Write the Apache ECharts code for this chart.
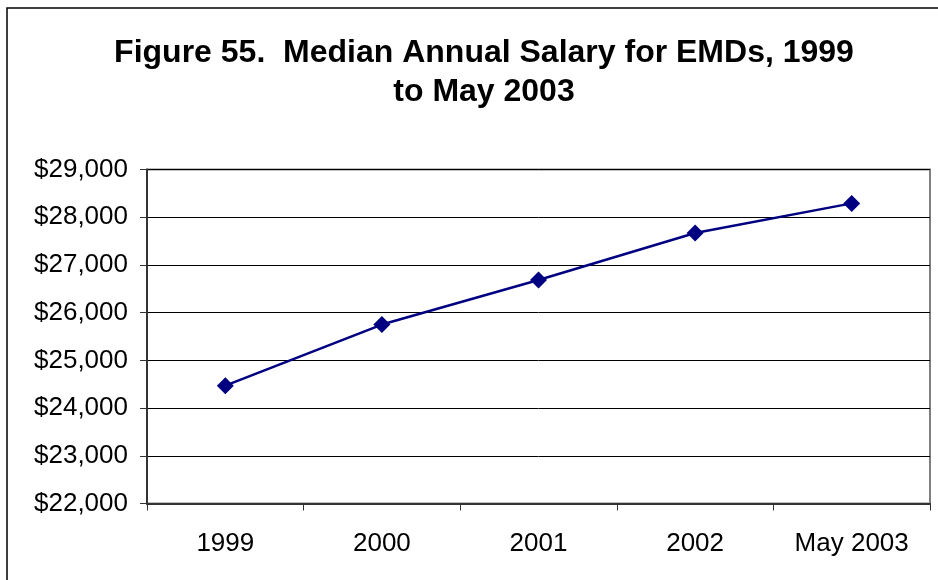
<!DOCTYPE html>
<html><head><meta charset="utf-8">
<script src="https://cdn.jsdelivr.net/npm/echarts@6/dist/echarts.min.js"></script>
<style>html,body{margin:0;padding:0;background:#fff}#c{width:938px;height:580px}</style>
</head><body><div id="c"></div>
<script>
const categories = ['1999', '2000', '2001', '2002', 'May 2003'];
const salaries = [24470, 25750, 26685, 27670, 28290];
const yTicks = [22000, 23000, 24000, 25000, 26000, 27000, 28000, 29000];
const titleText = 'Figure 55.  Median Annual Salary for EMDs, 1999\nto May 2003';

const chart = echarts.init(document.getElementById('c'), null, {renderer: 'canvas'});
const FONT = '"Liberation Sans", Arial, sans-serif';
chart.setOption({
  animation: false,
  backgroundColor: '#fff',
  title: {
    text: titleText,
    left: 479, top: 29, textAlign: 'center',
    textStyle: {fontFamily: FONT, fontWeight: 'bold', fontSize: 32, lineHeight: 39, color: '#000'}
  },
  graphic: [{
    type: 'rect', shape: {x: 7, y: 8, width: 1000, height: 700},
    style: {fill: 'none', stroke: '#000', lineWidth: 1.5}, silent: true, z: 10
  }],
  grid: {left: 147, right: 8, top: 169.5, bottom: 76.5, containLabel: false,
    show: true, borderColor: '#808080', borderWidth: 2},
  xAxis: {
    type: 'category', data: categories, boundaryGap: true,
    axisLine: {lineStyle: {color: '#333', width: 2}},
    axisTick: {show: true, length: 7, lineStyle: {color: '#333', width: 1}},
    axisLabel: {fontFamily: FONT, fontSize: 26, color: '#000', margin: 27}
  },
  yAxis: {
    type: 'value', min: yTicks[0], max: yTicks[yTicks.length - 1], interval: 1000,
    axisLine: {show: true, lineStyle: {color: '#333', width: 2}},
    axisTick: {show: true, length: 7, lineStyle: {color: '#333', width: 1}},
    splitLine: {lineStyle: {color: '#000', width: 1}},
    axisLabel: {fontFamily: FONT, fontSize: 26, color: '#000', margin: 19,
      formatter: v => '$' + v.toLocaleString('en-US')}
  },
  series: [{
    type: 'line', data: salaries,
    symbol: 'diamond', symbolSize: 17,
    lineStyle: {color: '#000080', width: 2.5},
    itemStyle: {color: '#000080'}
  }]
});
</script></body></html>
